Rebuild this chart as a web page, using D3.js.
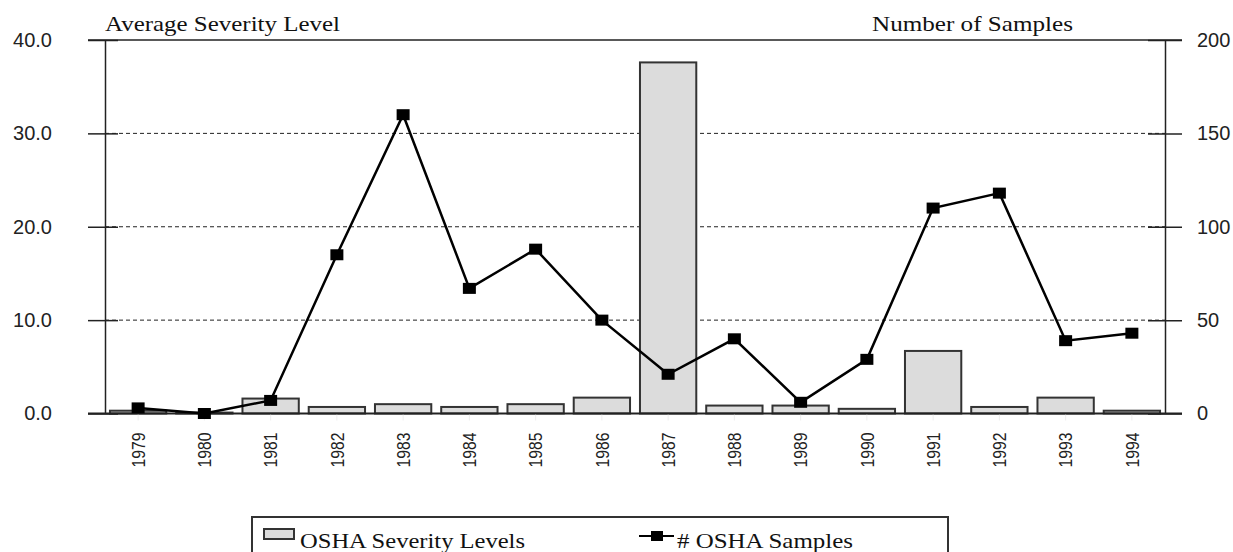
<!DOCTYPE html>
<html>
<head>
<meta charset="utf-8">
<script src="https://cdn.jsdelivr.net/npm/d3@7"></script>
<style>
  body { margin: 0; background: #fff; }
  svg { display: block; }
</style>
</head>
<body>
<svg id="chart" width="1233" height="552"></svg>
<script>
const years = ["1979", "1980", "1981", "1982", "1983", "1984", "1985", "1986",
  "1987", "1988", "1989", "1990", "1991", "1992", "1993", "1994"];
const severity = [0.3, 0.1, 1.6, 0.7, 1.0, 0.7, 1.0, 1.7, 37.6, 0.85, 0.85, 0.5, 6.7, 0.7, 1.7, 0.3];
const samples = [3, 0, 7, 85, 160, 67, 88, 50, 21, 40, 6, 29, 110, 118, 39, 43];
const leftTicks = [0, 10, 20, 30, 40];
const rightTicks = [0, 50, 100, 150, 200];

const plotLeft = 105, plotRight = 1165, plotTop = 40, plotBottom = 413.5;

const svg = d3.select("#chart");

const x = d3.scaleBand()
  .domain(years)
  .range([plotLeft, plotRight])
  .paddingInner(0.15)
  .paddingOuter(0.075);

const yLeft = d3.scaleLinear().domain([0, 40]).range([plotBottom, plotTop]);
const yRight = d3.scaleLinear().domain([0, 200]).range([plotBottom, plotTop]);

const tickFont = "'Liberation Sans', Arial, sans-serif";
const serifFont = "'Liberation Serif', 'DejaVu Serif', serif";

// dashed grid
svg.append("g")
  .selectAll("line")
  .data(leftTicks.filter(d => d > 0 && d < 40))
  .join("line")
  .attr("x1", plotLeft).attr("x2", plotRight)
  .attr("y1", d => yLeft(d)).attr("y2", d => yLeft(d))
  .attr("stroke", "#222")
  .attr("stroke-width", 1)
  .attr("stroke-dasharray", "4,3");

// bars
svg.append("g")
  .selectAll("rect")
  .data(severity)
  .join("rect")
  .attr("x", (d, i) => x(years[i]))
  .attr("y", d => yLeft(d))
  .attr("width", x.bandwidth())
  .attr("height", d => plotBottom - yLeft(d))
  .attr("fill", "#dcdcdc")
  .attr("stroke", "#333")
  .attr("stroke-width", 2);

// left axis
const axisLeft = svg.append("g")
  .attr("transform", `translate(${plotLeft},0)`)
  .call(d3.axisLeft(yLeft).tickValues(leftTicks).tickFormat(d3.format(".1f"))
    .tickSizeInner(17).tickSizeOuter(0).tickPadding(36));
axisLeft.select(".domain").attr("stroke", "#222").attr("stroke-width", 1.5);
axisLeft.selectAll(".tick line").attr("stroke", "#222").attr("stroke-width", 1.5)
  .attr("x2", -17).attr("x1", 13);
axisLeft.selectAll(".tick text")
  .attr("font-family", tickFont).attr("font-size", 20)
  .attr("fill", "#222");

// right axis
const axisRight = svg.append("g")
  .attr("transform", `translate(${plotRight},0)`)
  .call(d3.axisRight(yRight).tickValues(rightTicks)
    .tickSizeInner(17).tickSizeOuter(0).tickPadding(15));
axisRight.select(".domain").attr("stroke", "#222").attr("stroke-width", 1.5);
axisRight.selectAll(".tick line").attr("stroke", "#222").attr("stroke-width", 1.5)
  .attr("x1", -17).attr("x2", 17);
axisRight.selectAll(".tick text")
  .attr("font-family", tickFont).attr("font-size", 20)
  .attr("fill", "#222");

// top frame line
svg.append("line")
  .attr("x1", plotLeft - 17).attr("x2", plotRight + 17)
  .attr("y1", plotTop).attr("y2", plotTop)
  .attr("stroke", "#222").attr("stroke-width", 1.5);

// x axis
const axisBottom = svg.append("g")
  .attr("transform", `translate(0,${plotBottom})`)
  .call(d3.axisBottom(x).tickSizeInner(7).tickSizeOuter(0).tickPadding(0));
axisBottom.select(".domain").remove();
axisBottom.selectAll(".tick line").attr("stroke", "#eee");
axisBottom.selectAll(".tick text")
  .attr("font-family", tickFont).attr("font-size", 19)
  .attr("textLength", 35).attr("lengthAdjust", "spacingAndGlyphs")
  .attr("fill", "#222")
  .attr("transform", "translate(0,19) rotate(-90)")
  .attr("text-anchor", "end")
  .attr("x", 0).attr("y", 0).attr("dy", "0.35em");
svg.append("line")
  .attr("x1", plotLeft - 17).attr("x2", plotRight + 17)
  .attr("y1", plotBottom).attr("y2", plotBottom)
  .attr("stroke", "#222").attr("stroke-width", 2);

// samples line
const line = d3.line()
  .x((d, i) => x(years[i]) + x.bandwidth() / 2)
  .y(d => yRight(d));

svg.append("path")
  .datum(samples)
  .attr("d", line)
  .attr("fill", "none")
  .attr("stroke", "#000")
  .attr("stroke-width", 2.5);

svg.append("g")
  .selectAll("rect")
  .data(samples)
  .join("rect")
  .attr("x", (d, i) => x(years[i]) + x.bandwidth() / 2 - 6.5)
  .attr("y", d => yRight(d) - 5.5)
  .attr("width", 13)
  .attr("height", 11)
  .attr("fill", "#000");

// axis titles
svg.append("text")
  .attr("x", plotLeft).attr("y", 31)
  .attr("font-family", serifFont).attr("font-size", 21)
  .attr("textLength", 235).attr("lengthAdjust", "spacingAndGlyphs")
  .attr("fill", "#111")
  .text("Average Severity Level");

svg.append("text")
  .attr("x", 872).attr("y", 31)
  .attr("font-family", serifFont).attr("font-size", 21)
  .attr("textLength", 201).attr("lengthAdjust", "spacingAndGlyphs")
  .attr("fill", "#111")
  .text("Number of Samples");

// legend
const legend = svg.append("g");
legend.append("rect")
  .attr("x", 252).attr("y", 517)
  .attr("width", 696).attr("height", 50)
  .attr("fill", "#fff")
  .attr("stroke", "#333").attr("stroke-width", 2);

legend.append("rect")
  .attr("x", 264).attr("y", 529)
  .attr("width", 30).attr("height", 10)
  .attr("fill", "#dcdcdc")
  .attr("stroke", "#333").attr("stroke-width", 2);
legend.append("text")
  .attr("x", 300).attr("y", 548)
  .attr("font-family", serifFont).attr("font-size", 21)
  .attr("textLength", 225).attr("lengthAdjust", "spacingAndGlyphs")
  .attr("fill", "#111")
  .text("OSHA Severity Levels");

legend.append("line")
  .attr("x1", 639).attr("x2", 674)
  .attr("y1", 536).attr("y2", 536)
  .attr("stroke", "#000").attr("stroke-width", 2);
legend.append("rect")
  .attr("x", 651).attr("y", 531)
  .attr("width", 12).attr("height", 10)
  .attr("fill", "#000");
legend.append("text")
  .attr("x", 677).attr("y", 548)
  .attr("font-family", serifFont).attr("font-size", 21)
  .attr("textLength", 176).attr("lengthAdjust", "spacingAndGlyphs")
  .attr("fill", "#111")
  .text("# OSHA Samples");
</script>
</body>
</html>
